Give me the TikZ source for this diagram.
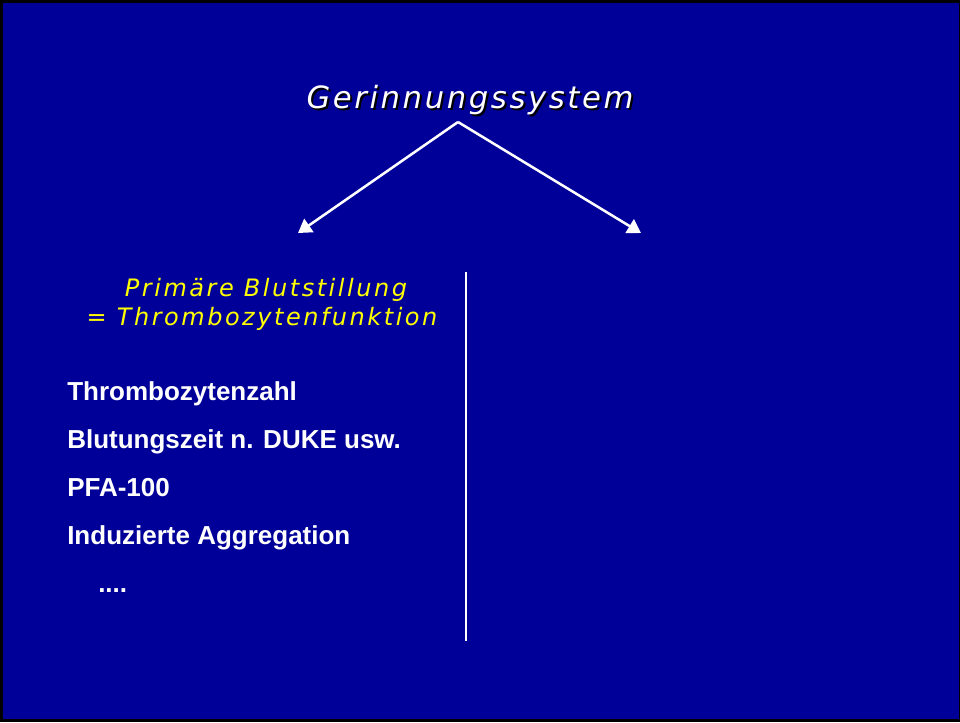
\documentclass[tikz,border=0pt]{standalone}
\usepackage{fontspec}
\setmainfont{Liberation Sans}
\newfontfamily\titlefont[LetterSpace=8.5]{DejaVu Sans}
\newfontfamily\subfont[LetterSpace=10.5]{DejaVu Sans}
\usetikzlibrary{arrows.meta}
\definecolor{slideblue}{HTML}{000099}
\definecolor{slideyellow}{HTML}{FFFF00}
\tikzset{
	item/.style={anchor=base west, inner sep=0pt, text=white, font=\bfseries\fontsize{19.5pt}{22pt}\selectfont},
	sub/.style={anchor=base, inner sep=0pt, text=slideyellow, font=\subfont\itshape\fontsize{18pt}{21pt}\selectfont},
	arr/.style={draw=white, line width=1.9pt, -{Triangle[width=12pt,length=10pt]}}
}
\begin{document}
\begin{tikzpicture}[x=0.75pt, y=-0.75pt]
		\fill[black] (0,0) rectangle (960,722);
		\fill[slideblue] (3,3) rectangle (959,719);

		\node[anchor=base, inner sep=0pt, text=black, font=\titlefont\itshape\fontsize{23pt}{26pt}\selectfont] at (472,110) {Gerinnungssystem};
		\node (T)[anchor=base, inner sep=0pt, text=white, font=\titlefont\itshape\fontsize{23pt}{26pt}\selectfont] at (470,108) {Gerinnungssystem};

		\coordinate (top) at (458,122);
		\coordinate (L) at (298,233);
		\coordinate (R) at (641,233);
		\draw[arr] (top) -- (L);
		\draw[arr] (top) -- (R);

		\node (P1)[sub] at (266,296) {Primäre Blutstillung};
		\node (P2)[sub] at (262,325) {= Thrombozytenfunktion};

		\node (A)[item] at (67,400) {Thrombozytenzahl};
		\node (B)[item] at (67,448) {Blutungszeit n. DUKE usw.};
		\node (C)[item] at (67,496) {PFA-100};
		\node (D)[item] at (67,544) {Induzierte Aggregation};
		\node (E)[item] at (98,592) {....};

		\coordinate (s1) at (466,272);
		\coordinate (s2) at (466,641);
		\draw[white, line width=1.4pt] (s1) -- (s2);

	\end{tikzpicture}
\end{document}
